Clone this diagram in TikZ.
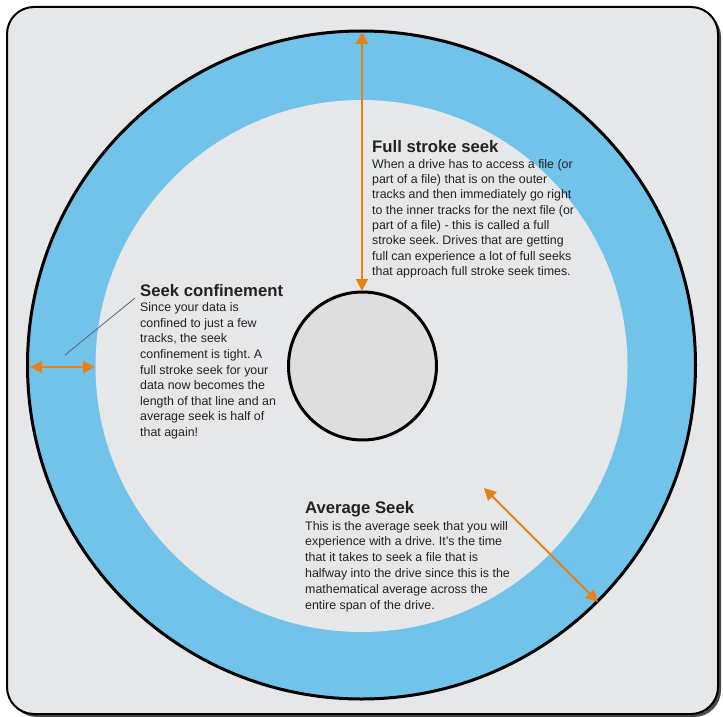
\documentclass[tikz,border=0pt]{standalone}
\usepackage{fontspec}
\setmainfont{Liberation Sans}
\usetikzlibrary{arrows.meta}
\definecolor{discblue}{HTML}{72C3EA}
\definecolor{bggray}{HTML}{E6E7E9}
\definecolor{hubgray}{HTML}{DEDEDF}
\definecolor{orng}{HTML}{E8801A}
\definecolor{txtc}{HTML}{222222}
\definecolor{pointer}{HTML}{5A6470}
\frenchspacing
\tikzset{
  ttl/.style={anchor=base west, inner sep=0pt, text=txtc, font=\fontsize{16.7}{19}\selectfont\bfseries},
  bodytxt/.style={anchor=base west, inner sep=0pt, text=txtc, align=left, font=\frenchspacing\fontsize{12.4}{15.5}\selectfont},
  dimarrow/.style={draw=orng, line width=2pt, {Triangle[length=12pt,width=12pt]}-{Triangle[length=12pt,width=12pt]}},
}
\begin{document}
\begin{tikzpicture}[x=1pt,y=-1pt]
\useasboundingbox (0,0) rectangle (723,717);
\fill[white] (0,0) rectangle (723,717);
% shadow and frame
\fill[black!70, rounded corners=27pt] (10,10) rectangle (721,717);
\draw[black, line width=2pt, fill=bggray, rounded corners=27pt] (7,7) rectangle (718,714);
% disc
\node[circle, draw=black, line width=3pt, fill=discblue, minimum size=668pt, inner sep=0pt] (disc) at (361.5,365) {};
\node[circle, fill=bggray, minimum size=532pt, inner sep=0pt] (data) at (361.5,366) {};
\node[circle, draw=black, line width=3pt, fill=hubgray, minimum size=148pt, inner sep=0pt] (hub) at (362.5,366) {};
% arrow endpoints
\coordinate (vtop) at (362,32);
\coordinate (vbot) at (362,291);
\coordinate (hl) at (30,367);
\coordinate (hr) at (95,367);
\coordinate (dtop) at (484,488);
\coordinate (dbot) at (598,602);
\coordinate (pa) at (65,355);
\coordinate (pb) at (135,298);
\draw[dimarrow] (vtop) -- (vbot);
\draw[dimarrow] (hl) -- (hr);
\draw[dimarrow] (dtop) -- (dbot);
\draw[pointer, line width=0.8pt] (pa) -- (pb);
% texts (body nodes are placed at the baseline of their last line)
\node[ttl] (t1) at (372,152) {Full stroke seek};
\node[bodytxt, font=\frenchspacing\fontsize{12.4}{15.3}\selectfont] (b1) at (372,275.4) {When a drive has to access a file (or\\
part of a file) that is on the outer\\
tracks and then immediately go right\\
to the inner tracks for the next file (or\\
part of a file) - this is called a full\\
stroke seek. Drives that are getting\\
full can experience a lot of full seeks\\
that approach full stroke seek times.};
\node[ttl] (t2) at (140,296) {Seek confinement};
\node[bodytxt, font=\frenchspacing\fontsize{12.4}{15.6}\selectfont] (b2) at (140,436.5) {Since your data is\\
confined to just a few\\
tracks, the seek\\
confinement is tight. A\\
full stroke seek for your\\
data now becomes the\\
length of that line and an\\
average seek is half of\\
that again!};
\node[ttl] (t3) at (305,513) {Average Seek};
\node[bodytxt, font=\frenchspacing\fontsize{12.4}{15.8}\selectfont] (b3) at (305,609) {This is the average seek that you will\\
experience with a drive. It’s the time\\
that it takes to seek a file that is\\
halfway into the drive since this is the\\
mathematical average across the\\
entire span of the drive.};
\end{tikzpicture}
\end{document}
